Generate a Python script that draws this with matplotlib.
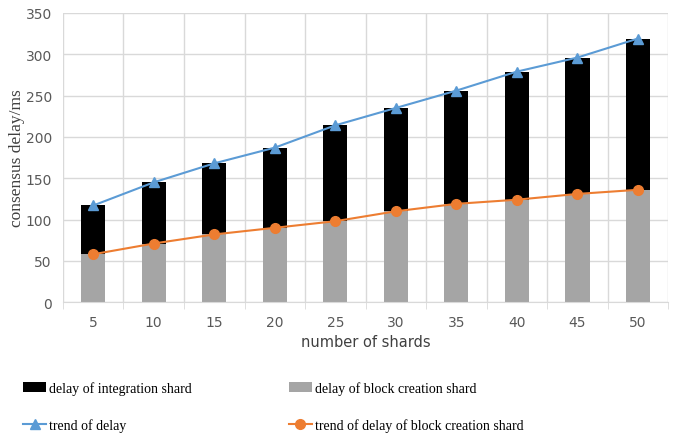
import matplotlib.pyplot as plt
import numpy as np

shards = [5, 10, 15, 20, 25, 30, 35, 40, 45, 50]
block_creation = [58, 71, 82, 90, 98, 110, 119, 124, 131, 136]
total_delay = [117, 145, 168, 187, 214, 235, 256, 279, 296, 319]
integration = [t - b for t, b in zip(total_delay, block_creation)]

BLUE = '#5B9BD5'
ORANGE = '#ED7D31'
GRAY = '#A5A5A5'
GRID = '#D9D9D9'
TEXT = '#595959'

fig = plt.figure(figsize=(6.77, 4.35), dpi=100)
ax = fig.add_axes([0.093, 0.303, 0.894, 0.665])

x = np.arange(len(shards))
b1 = ax.bar(x, block_creation, width=0.4, color=GRAY, zorder=2,
            label='delay of block creation shard')
b2 = ax.bar(x, integration, width=0.4, bottom=block_creation, color='black',
            zorder=2, label='delay of integration shard')
l1, = ax.plot(x, total_delay, color=BLUE, marker='^', markersize=6.5, lw=1.5,
              zorder=3, label='trend of delay')
l2, = ax.plot(x, block_creation, color=ORANGE, marker='o', markersize=7,
              lw=1.5, zorder=3, label='trend of delay of block creation shard')

ax.set_xlim(-0.5, len(shards) - 0.5)
ax.set_ylim(0, 350)
ax.set_yticks(np.arange(0, 351, 50))
ax.set_xticks(x)
ax.set_xticklabels([str(s) for s in shards])
ax.set_xticks(np.arange(-0.5, len(shards), 1), minor=True)

ax.grid(True, which='major', axis='y', color=GRID, lw=1, zorder=0)
ax.grid(True, which='minor', axis='x', color=GRID, lw=1, zorder=0)
ax.tick_params(axis='x', which='major', length=0, pad=9, labelsize=10,
               labelcolor=TEXT)
ax.tick_params(axis='x', which='minor', length=5, color=GRID)
ax.tick_params(axis='y', length=0, pad=8, labelsize=10, labelcolor=TEXT)
for side in ['left', 'top', 'right']:
    ax.spines[side].set_visible(False)
ax.spines['bottom'].set_color(GRID)

ax.set_xlabel('number of shards', fontsize=10.5, color='#404040', labelpad=4)
ax.set_ylabel('consensus delay/ms', fontsize=12.5, family='Liberation Serif',
              color='#404040')
ax.yaxis.set_label_coords(-0.062, 0.5)

fig.legend([b2, l1, b1, l2],
           ['delay of integration shard', 'trend of delay',
            'delay of block creation shard',
            'trend of delay of block creation shard'],
           ncol=2, loc='lower left', bbox_to_anchor=(0.016, -0.024),
           frameon=False, handlelength=1.65, handletextpad=0.2,
           columnspacing=7.0, labelspacing=1.7,
           prop={'family': 'Liberation Serif', 'size': 10})

fig.savefig('out.png', dpi=100)
